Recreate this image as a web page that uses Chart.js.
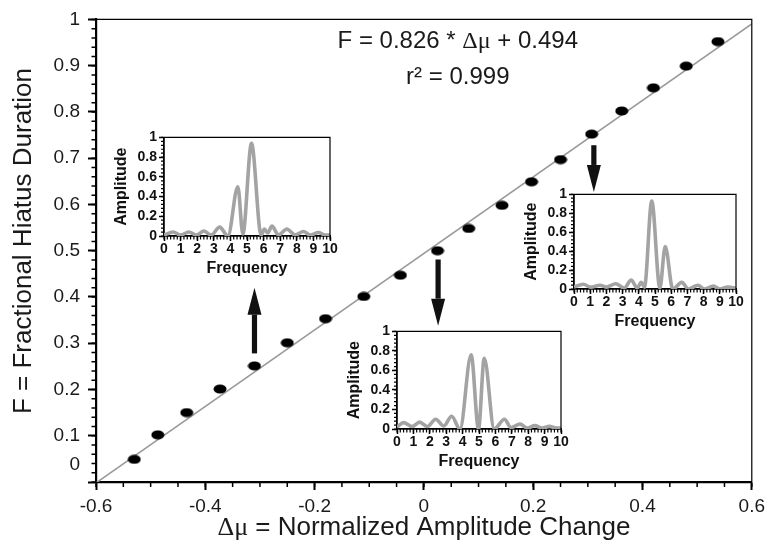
<!DOCTYPE html>
<html>
<head>
<meta charset="utf-8">
<script src="https://cdn.jsdelivr.net/npm/chart.js@4.4.1/dist/chart.umd.min.js"></script>
<style>
  html, body { margin: 0; padding: 0; background: #fff; }
  #wrap { position: relative; width: 770px; height: 545px; overflow: hidden; }
  #wrap canvas { position: absolute; }
</style>
</head>
<body>
<div id="wrap">
  <canvas id="main" width="770" height="545" style="left:0;top:0"></canvas>
  <canvas id="inset1"></canvas>
  <canvas id="inset2"></canvas>
  <canvas id="inset3"></canvas>
</div>
<script>
// --- main plot : F vs delta mu ---
const dMu     = [-0.530, -0.487, -0.434, -0.373, -0.310, -0.250, -0.180, -0.110, -0.043, 0.025,
                 0.082, 0.143, 0.197, 0.250, 0.307, 0.362, 0.420, 0.480, 0.538];
const fHiatus = [0.049, 0.102, 0.150, 0.201, 0.251, 0.301, 0.353, 0.401, 0.447, 0.500,
                 0.548, 0.598, 0.649, 0.697, 0.752, 0.802, 0.852, 0.899, 0.952];

// fitted line end points
const fitX = [-0.6, 0.6];
const fitF = [-0.002, 0.990];

const xTickVals   = [-0.6, -0.4, -0.2, 0, 0.2, 0.4, 0.6];
const xTickLabels = ['-0.6', '-0.4', '-0.2', '0', '0.2', '0.4', '0.6'];
const yTickVals   = [0, 0.1, 0.2, 0.3, 0.4, 0.5, 0.6, 0.7, 0.8, 0.9, 1];
const yTickLabels = ['0', '0.1', '0.2', '0.3', '0.4', '0.5', '0.6', '0.7', '0.8', '0.9', '1'];

// arrows (x position, start F, tip F)
const arrowX    = [-0.310, 0.026, 0.311];
const arrowFrom = [0.278, 0.481, 0.728];
const arrowTo   = [0.420, 0.338, 0.627];

// --- insets : amplitude spectra ---
const freq1 = [0, 0.55, 1.0, 1.5, 1.95, 2.4, 2.85, 3.35, 3.85, 4.45, 4.75, 5.27, 5.85, 6.05, 6.25, 6.5, 6.9, 7.4, 7.9, 8.4, 8.8, 9.3, 9.7, 10];
const amp1  = [0.01, 0.04, 0.01, 0.04, 0.01, 0.05, 0.01, 0.09, 0.0, 0.50, 0.02, 0.94, 0.01, 0.07, 0.03, 0.10, 0.01, 0.07, 0.01, 0.045, 0.01, 0.035, 0.01, 0.01];

const freq2 = [0, 0.58, 1.03, 1.6, 2.0, 2.58, 3.1, 3.53, 3.9, 4.15, 4.35, 4.8, 5.3, 5.63, 6.1, 6.65, 7.07, 7.65, 8.04, 8.6, 9.0, 9.5, 10];
const amp2  = [0.02, 0.05, 0.02, 0.04, 0.02, 0.055, 0.01, 0.095, 0.01, 0.07, 0.02, 0.93, 0.01, 0.45, 0.0, 0.07, 0.0, 0.04, 0.0, 0.03, 0.0, 0.02, 0.01];

const freq3 = [0, 0.4, 0.92, 1.38, 1.85, 2.36, 2.85, 3.33, 3.84, 4.52, 4.97, 5.32, 5.93, 6.55, 6.95, 7.5, 7.95, 8.4, 8.85, 9.3, 9.7, 10];
const amp3  = [0.02, 0.065, 0.025, 0.07, 0.025, 0.10, 0.03, 0.13, 0.0, 0.76, 0.0, 0.725, 0.0, 0.10, 0.015, 0.05, 0.01, 0.035, 0.01, 0.027, 0.01, 0.01];

const insetFreqTicks = [0, 1, 2, 3, 4, 5, 6, 7, 8, 9, 10];
const insetAmpTicks  = [0, 0.2, 0.4, 0.6, 0.8, 1];
const insetAmpLabels = ['0', '0.2', '0.4', '0.6', '0.8', '1'];

const SANS = "'Liberation Sans', Arial, Helvetica, sans-serif";
const SERIF = "'Liberation Serif', 'Times New Roman', serif";
Chart.defaults.font.family = SANS;
Chart.defaults.color = '#1a1a1a';

// black ellipse used as point marker
const dotImg = (() => {
  const c = document.createElement('canvas');
  c.width = 14; c.height = 10;
  const g = c.getContext('2d');
  g.fillStyle = '#000';
  g.beginPath();
  g.ellipse(7, 5, 6.5, 4.6, 0, 0, Math.PI * 2);
  g.fill();
  return c;
})();

// text with mixed fonts, centred on cx
function drawRich(ctx, parts, cx, y) {
  let w = 0;
  parts.forEach(p => { ctx.font = p[1]; w += ctx.measureText(p[0]).width; });
  let x = cx - w / 2;
  ctx.textAlign = 'left';
  ctx.textBaseline = 'alphabetic';
  parts.forEach(p => { ctx.font = p[1]; ctx.fillText(p[0], x, y); x += ctx.measureText(p[0]).width; });
}

// minor ticks + top/right frame
const frameTicks = {
  id: 'frameTicks',
  afterDraw(chart, args, o) {
    const { ctx, chartArea: a, scales: { x, y } } = chart;
    ctx.save();
    ctx.strokeStyle = '#000';
    ctx.lineWidth = o.width;
    ctx.beginPath();
    for (let v = x.min; v <= x.max + 1e-9; v += o.xStep) {
      const px = x.getPixelForValue(v);
      ctx.moveTo(px, a.bottom); ctx.lineTo(px, a.bottom + o.xLen);
    }
    for (let v = y.min; v <= y.max + 1e-9; v += o.yStep) {
      const py = y.getPixelForValue(v);
      ctx.moveTo(a.left, py); ctx.lineTo(a.left - o.yLen, py);
    }
    ctx.stroke();
    ctx.lineWidth = o.frame;
    ctx.beginPath();
    ctx.moveTo(a.left, a.top); ctx.lineTo(a.right, a.top); ctx.lineTo(a.right, a.bottom);
    ctx.stroke();
    ctx.restore();
  }
};

// arrows, equation, axis titles, shifted "0" label
const mainDecor = {
  id: 'mainDecor',
  afterDraw(chart) {
    const { ctx, chartArea: a, scales: { x, y } } = chart;
    ctx.save();
    ctx.fillStyle = '#111';
    arrowX.forEach((ax, i) => {
      const px = x.getPixelForValue(ax);
      const y0 = y.getPixelForValue(arrowFrom[i]);
      const y1 = y.getPixelForValue(arrowTo[i]);
      const dir = Math.sign(y1 - y0), head = 27, hw = 7, sw = 2.6;
      const yb = y1 - dir * head;
      ctx.fillRect(px - sw, Math.min(y0, yb), sw * 2, Math.abs(yb - y0));
      ctx.beginPath();
      ctx.moveTo(px - hw, yb); ctx.lineTo(px + hw, yb); ctx.lineTo(px, y1);
      ctx.closePath(); ctx.fill();
    });

    ctx.fillStyle = '#1a1a1a';
    const cx = x.getPixelForValue(0.062);
    drawRich(ctx, [['F = 0.826 * ', '24px ' + SANS], ['\u0394\u03bc', '24px ' + SERIF], [' + 0.494', '24px ' + SANS]],
      cx, y.getPixelForValue(0.938));
    drawRich(ctx, [['r\u00b2 = 0.999', '24px ' + SANS]], cx, y.getPixelForValue(0.861));

    drawRich(ctx, [['\u0394\u03bc', '26px ' + SERIF], [' = Normalized Amplitude Change', '26px ' + SANS]],
      (a.left + a.right) / 2, 535);

    ctx.save();
    ctx.translate(24, 241);
    ctx.rotate(-Math.PI / 2);
    ctx.font = '26px ' + SANS;
    ctx.textAlign = 'center';
    ctx.textBaseline = 'middle';
    ctx.fillText('F = Fractional Hiatus Duration', 0, 0);
    ctx.restore();

    ctx.font = '19px ' + SANS;
    ctx.textAlign = 'right';
    ctx.textBaseline = 'middle';
    ctx.fillText(yTickLabels[0], a.left - 16, y.getPixelForValue(0) - 17);
    ctx.restore();
  }
};

new Chart(document.getElementById('main'), {
  type: 'scatter',
  data: {
    datasets: [
      {
        data: dMu.map((v, i) => ({ x: v, y: fHiatus[i] })),
        pointStyle: dotImg,
        pointRadius: 6,
        order: 0
      },
      {
        type: 'line',
        data: fitX.map((v, i) => ({ x: v, y: fitF[i] })),
        borderColor: '#999999',
        borderWidth: 1.6,
        pointRadius: 0,
        order: 1
      }
    ]
  },
  options: {
    responsive: false,
    animation: false,
    layout: { padding: { top: 17, right: 13, left: 0, bottom: 0 } },
    plugins: {
      legend: { display: false },
      tooltip: { enabled: false },
      frameTicks: { xStep: 0.05, yStep: 0.02, xLen: 5, yLen: 4.5, width: 1.5, frame: 1.2 }
    },
    scales: {
      x: {
        type: 'linear', min: -0.6, max: 0.6,
        afterBuildTicks: s => { s.ticks = xTickVals.map(v => ({ value: v })); },
        afterFit: s => { s.height = 63; },
        ticks: { callback: (v, i) => xTickLabels[i], font: { size: 19 }, padding: 5, maxRotation: 0, autoSkip: false },
        grid: { drawOnChartArea: false, tickLength: 8, tickColor: '#000', tickWidth: 2 },
        border: { color: '#000', width: 2.2 }
      },
      y: {
        type: 'linear', min: 0, max: 1,
        afterBuildTicks: s => { s.ticks = yTickVals.map(v => ({ value: v })); },
        afterFit: s => { s.width = 96; },
        ticks: { callback: (v, i) => (i === 0 ? '' : yTickLabels[i]), font: { size: 19 }, padding: 8, autoSkip: false },
        grid: { drawOnChartArea: false, tickLength: 8, tickColor: '#000', tickWidth: 2 },
        border: { color: '#000', width: 2.2 }
      }
    }
  },
  plugins: [frameTicks, mainDecor]
});

// --- insets ---
const Y_AXIS_W = 56, X_AXIS_H = 44, PAD_T = 10, PAD_R = 10;

function makeInset(id, box, freq, amp) {
  const cv = document.getElementById(id);
  cv.width = box.r - box.l + Y_AXIS_W + PAD_R;
  cv.height = box.b - box.t + PAD_T + X_AXIS_H;
  cv.style.left = (box.l - Y_AXIS_W) + 'px';
  cv.style.top = (box.t - PAD_T) + 'px';
  new Chart(cv, {
    type: 'line',
    data: {
      datasets: [{
        data: freq.map((f, i) => ({ x: f, y: amp[i] })),
        borderColor: '#a3a3a3',
        borderWidth: 3.6,
        pointRadius: 0,
        cubicInterpolationMode: 'monotone'
      }]
    },
    options: {
      responsive: false,
      animation: false,
      layout: { padding: { top: PAD_T, right: PAD_R, left: 0, bottom: 0 } },
      plugins: {
        legend: { display: false },
        tooltip: { enabled: false },
        frameTicks: { xStep: 0.2, yStep: 0.04, xLen: 3.5, yLen: 3, width: 1.2, frame: 1.2 }
      },
      scales: {
        x: {
          type: 'linear', min: 0, max: 10,
          afterBuildTicks: s => { s.ticks = insetFreqTicks.map(v => ({ value: v })); },
          afterFit: s => { s.height = X_AXIS_H; },
          ticks: { callback: (v, i) => String(insetFreqTicks[i]), font: { size: 14, weight: 'bold' }, padding: 0, maxRotation: 0, autoSkip: false, color: '#111' },
          grid: { drawOnChartArea: false, tickLength: 5, tickColor: '#000', tickWidth: 1.5 },
          border: { color: '#000', width: 1.8 },
          title: { display: true, text: 'Frequency', font: { size: 16, weight: 'bold' }, color: '#111', padding: { top: 0, bottom: 2 } }
        },
        y: {
          type: 'linear', min: 0, max: 1,
          afterBuildTicks: s => { s.ticks = insetAmpTicks.map(v => ({ value: v })); },
          afterFit: s => { s.width = Y_AXIS_W; },
          ticks: { callback: (v, i) => insetAmpLabels[i], font: { size: 14, weight: 'bold' }, padding: 2, autoSkip: false, color: '#111' },
          grid: { drawOnChartArea: false, tickLength: 5, tickColor: '#000', tickWidth: 1.5 },
          border: { color: '#000', width: 1.8 },
          title: { display: true, text: 'Amplitude', font: { size: 16, weight: 'bold' }, color: '#111', padding: { top: 4, bottom: 0 } }
        }
      }
    },
    plugins: [frameTicks]
  });
}

makeInset('inset1', { l: 164, t: 137, r: 330, b: 236 }, freq1, amp1);
makeInset('inset2', { l: 574, t: 194, r: 736, b: 289 }, freq2, amp2);
makeInset('inset3', { l: 397, t: 331, r: 561, b: 429 }, freq3, amp3);
</script>
</body>
</html>
